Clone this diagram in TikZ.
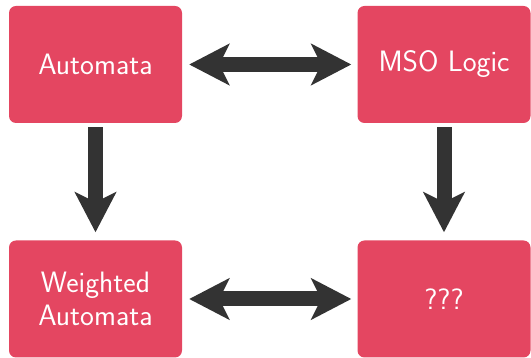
\documentclass[tikz,border=0pt]{standalone}
\usepackage{fontspec}
\usetikzlibrary{arrows.meta}
\definecolor{boxred}{RGB}{228,70,97}
\definecolor{arrowgray}{RGB}{51,51,51}
\begin{document}
\begin{tikzpicture}[x=1pt,y=1pt,
  box/.style={rectangle, rounded corners=7pt, fill=boxred, text=white,
    minimum width=173pt, minimum height=117pt, inner sep=0pt, align=center,
    font=\sffamily\fontsize{29.5}{33}\selectfont},
  bigarrow/.style={draw=arrowgray, line width=15pt}]
\useasboundingbox (0,0) rectangle (531,358);
\node[box] (auto) at (95.5,293.5) {Automata};
\node[box] (mso) at (444,293.5) {MSO Logic};
\node[box] (wauto) at (95.5,59) {Weighted\\Automata};
\node[box] (q) at (444,59) {???};
\draw[bigarrow, {Stealth[length=40pt,width=41pt,inset=10pt]}-{Stealth[length=40pt,width=41pt,inset=10pt]}, shorten <=7pt, shorten >=6pt] (auto) -- (mso);
\draw[bigarrow, {Stealth[length=40pt,width=41pt,inset=10pt]}-{Stealth[length=40pt,width=41pt,inset=10pt]}, shorten <=7pt, shorten >=6pt] (wauto) -- (q);
\draw[bigarrow, -{Stealth[length=40pt,width=41pt,inset=10pt]}, shorten <=4pt, shorten >=8pt] (auto) -- (wauto);
\draw[bigarrow, -{Stealth[length=40pt,width=41pt,inset=10pt]}, shorten <=4pt, shorten >=8pt] (mso) -- (q);
\end{tikzpicture}
\end{document}
